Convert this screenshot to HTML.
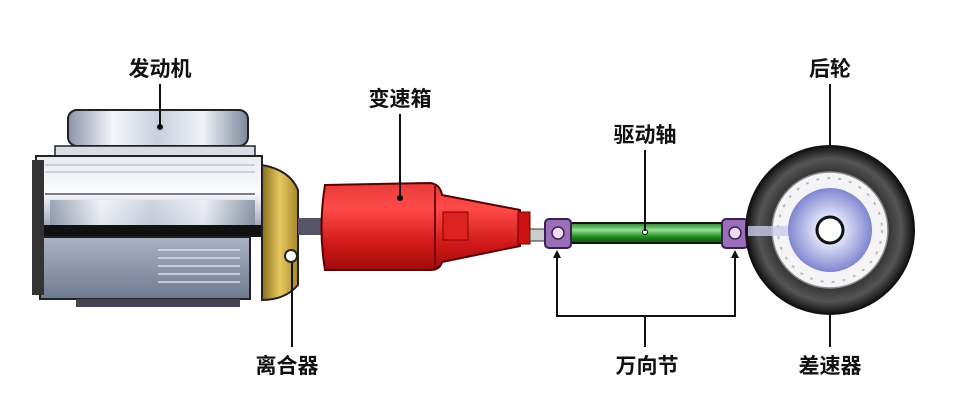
<!DOCTYPE html>
<html><head><meta charset="utf-8"><style>
html,body{margin:0;padding:0;background:#fff;}
svg{display:block;}
text{font-family:"Liberation Sans","Noto Sans CJK SC",sans-serif;font-weight:bold;font-size:21px;fill:#111;text-anchor:middle;}
</style></head><body>
<svg width="954" height="416" viewBox="0 0 954 416" xmlns="http://www.w3.org/2000/svg">
<defs>
<linearGradient id="silver" x1="0" y1="0" x2="1" y2="0">
<stop offset="0" stop-color="#8a93a8"/><stop offset="0.25" stop-color="#f4f6fa"/><stop offset="0.5" stop-color="#c9cfdc"/><stop offset="0.75" stop-color="#f0f2f7"/><stop offset="1" stop-color="#7d879c"/></linearGradient>
<linearGradient id="silverv" x1="0" y1="0" x2="0" y2="1">
<stop offset="0" stop-color="#e8ebf2"/><stop offset="0.5" stop-color="#fafbfd"/><stop offset="1" stop-color="#9aa3b6"/></linearGradient>
<linearGradient id="gray" x1="0" y1="0" x2="0" y2="1">
<stop offset="0" stop-color="#aab3c6"/><stop offset="1" stop-color="#6f7a90"/></linearGradient>
<linearGradient id="red" x1="0" y1="0" x2="0" y2="1">
<stop offset="0" stop-color="#e83a3a"/><stop offset="0.3" stop-color="#ff4a4a"/><stop offset="0.7" stop-color="#d01818"/><stop offset="1" stop-color="#a00c0c"/></linearGradient>
<linearGradient id="yel" x1="0" y1="0" x2="1" y2="0">
<stop offset="0" stop-color="#8a6e1e"/><stop offset="0.5" stop-color="#e6c860"/><stop offset="1" stop-color="#a8862a"/></linearGradient>
<linearGradient id="grn" x1="0" y1="0" x2="0" y2="1">
<stop offset="0" stop-color="#2b7a2b"/><stop offset="0.35" stop-color="#8ee08e"/><stop offset="0.7" stop-color="#1f8a1f"/><stop offset="1" stop-color="#0f4f0f"/></linearGradient>
<radialGradient id="tire" cx="0.5" cy="0.5" r="0.5">
<stop offset="0.6" stop-color="#222"/><stop offset="0.85" stop-color="#555"/><stop offset="1" stop-color="#111"/></radialGradient>
<radialGradient id="hub" cx="0.5" cy="0.5" r="0.5">
<stop offset="0.3" stop-color="#e6e8fb"/><stop offset="1" stop-color="#7f86cf"/></radialGradient>
</defs>

<!-- labels -->
<text x="160" y="76">发动机</text>
<text x="400" y="106">变速箱</text>
<text x="645" y="142">驱动轴</text>
<text x="830" y="76">后轮</text>
<text x="287" y="373">离合器</text>
<text x="647" y="373">万向节</text>
<text x="830" y="373">差速器</text>

<!-- engine -->
<rect x="68" y="110" width="180" height="36" rx="9" fill="url(#silver)" stroke="#222" stroke-width="2"/>
<rect x="55" y="146" width="200" height="10" fill="#d9dde6" stroke="#222" stroke-width="1.5"/>
<rect x="36" y="156" width="226" height="72" fill="url(#silverv)" stroke="#222" stroke-width="2"/>
<line x1="45" y1="165" x2="255" y2="165" stroke="#aab" />
<line x1="45" y1="172" x2="255" y2="172" stroke="#aab" />
<line x1="45" y1="194" x2="255" y2="194" stroke="#556" stroke-width="1.5"/>
<rect x="50" y="200" width="205" height="26" fill="url(#silver)" opacity="0.8"/>
<rect x="36" y="225" width="232" height="12" fill="#111"/>
<rect x="40" y="237" width="210" height="62" fill="url(#gray)" stroke="#222" stroke-width="2"/>
<rect x="76" y="299" width="164" height="8" fill="#445"/>
<g stroke="#dde" stroke-width="1.5">
<line x1="158" y1="250" x2="240" y2="250"/><line x1="158" y1="258" x2="240" y2="258"/><line x1="158" y1="266" x2="240" y2="266"/><line x1="158" y1="274" x2="240" y2="274"/><line x1="158" y1="282" x2="240" y2="282"/></g>
<rect x="32" y="160" width="12" height="135" fill="#333"/>
<path d="M262 165 Q290 170 298 190 L298 285 Q285 300 262 300 Z" fill="url(#yel)" stroke="#222" stroke-width="2"/>
<circle cx="291" cy="256" r="6" fill="#fff" stroke="#222" stroke-width="2"/>
<rect x="298" y="218" width="26" height="17" fill="#556"/>

<!-- gearbox -->
<path d="M325 185 L430 183 Q440 184 442 195 L520 210 L520 246 L442 262 Q440 270 430 270 L325 270 Q318 228 325 185 Z" fill="url(#red)" stroke="#5a0000" stroke-width="2"/>
<line x1="435" y1="186" x2="435" y2="268" stroke="#700" stroke-width="2"/>
<rect x="443" y="212" width="25" height="28" fill="#d22" stroke="#800"/>
<rect x="518" y="212" width="12" height="32" fill="#c11" stroke="#600"/>
<rect x="530" y="229" width="18" height="12" fill="#ccc" stroke="#333"/>

<!-- driveshaft -->
<rect x="568" y="223" width="160" height="20" fill="url(#grn)" stroke="#111" stroke-width="2"/>
<rect x="545" y="219" width="26" height="29" rx="4" fill="#9a6fb8" stroke="#3a2050" stroke-width="2"/>
<circle cx="558" cy="233" r="6" fill="#f0ddf5" stroke="#3a2050" stroke-width="1.5"/>
<rect x="722" y="219" width="26" height="29" rx="4" fill="#9a6fb8" stroke="#3a2050" stroke-width="2"/>
<circle cx="735" cy="233" r="6" fill="#f0ddf5" stroke="#3a2050" stroke-width="1.5"/>
<circle cx="645" cy="232" r="2.5" fill="#fff" stroke="#111"/>

<!-- wheel -->
<circle cx="830" cy="230" r="84" fill="url(#tire)" stroke="#111" stroke-width="2"/>
<circle cx="830" cy="230" r="58" fill="#f4f4f7" stroke="#888" stroke-width="1.5"/>
<circle cx="830" cy="230" r="52" fill="none" stroke="#bbb" stroke-width="2" stroke-dasharray="3 8"/>
<circle cx="830" cy="230" r="42" fill="url(#hub)"/>
<rect x="748" y="226" width="40" height="10" fill="#c9cbe8" opacity="0.8"/>
<circle cx="830" cy="230" r="13" fill="#fff" stroke="#111" stroke-width="3"/>

<!-- leader lines -->
<g stroke="#111" stroke-width="2" fill="none">
<line x1="160" y1="84" x2="160" y2="126"/>
<line x1="400" y1="114" x2="400" y2="197"/>
<line x1="645" y1="150" x2="645" y2="231"/>
<line x1="830" y1="84" x2="830" y2="146"/>
<line x1="292" y1="262" x2="292" y2="347"/>
<line x1="830" y1="314" x2="830" y2="347"/>
<polyline points="557,254 557,316 735,316 735,254"/>
<line x1="645" y1="316" x2="645" y2="347"/>
</g>
<circle cx="160" cy="127" r="3" fill="#111"/>
<circle cx="400" cy="198" r="3" fill="#111"/>
<path d="M553 258 L557 250 L561 258 Z" fill="#111"/>
<path d="M731 258 L735 250 L739 258 Z" fill="#111"/>
</svg>
</body></html>
